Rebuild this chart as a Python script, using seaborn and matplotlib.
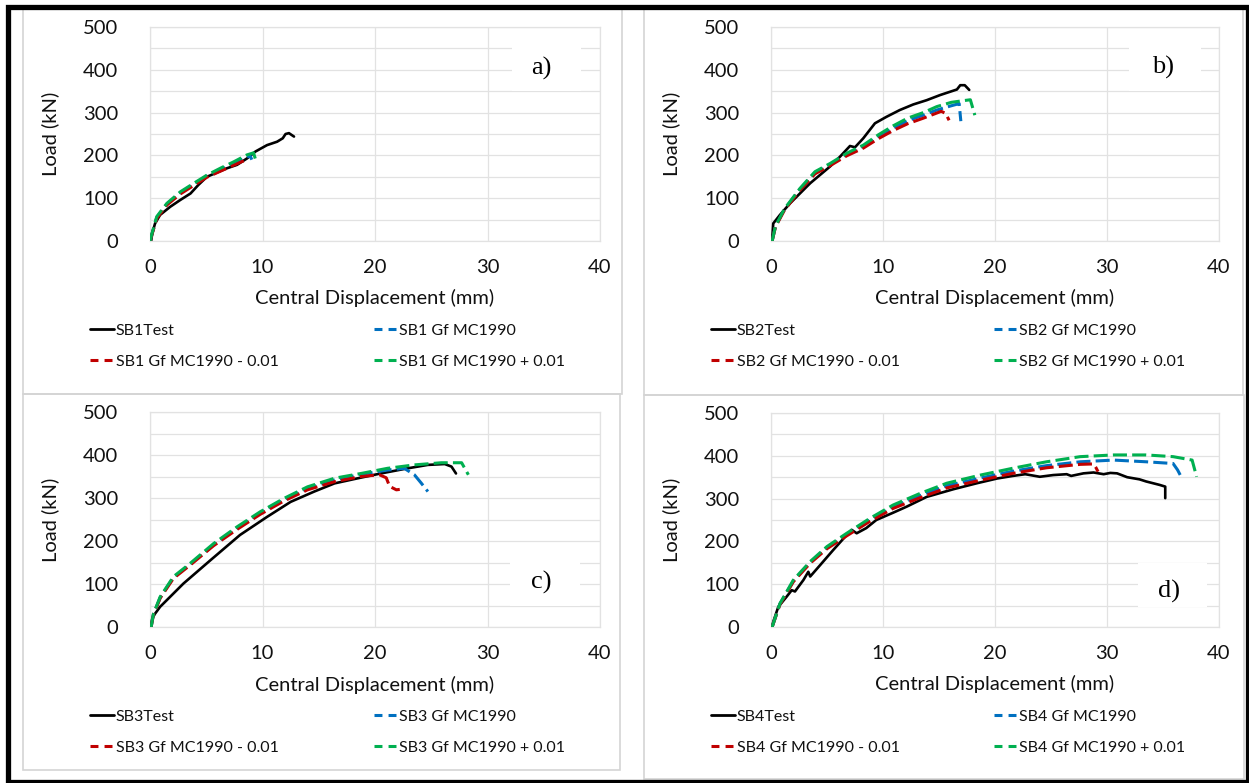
import numpy as np
import pandas as pd
import matplotlib
matplotlib.use("Agg")
import matplotlib.pyplot as plt
from matplotlib.lines import Line2D
from matplotlib.patches import Rectangle
import seaborn as sns

# ---------------- data: load (kN) vs central displacement (mm) ----------------
# SB1
sb1_test_x = [0.1, 0.2, 0.45, 0.9, 1.8, 2.7, 3.6, 4.3, 5.06, 5.95, 6.85, 7.74, 8.63, 9.37, 10.4, 11.3, 11.8, 12.05, 12.35, 12.8]
sb1_test_y = [0, 18, 41, 61, 80, 96, 111, 131, 150, 160, 170, 178, 193, 209, 224, 232, 240, 250, 252, 244]
sb1_mc_x = [0, 0.15, 0.6, 1.5, 2.7, 3.9, 5.06, 6.25, 7.44, 8.6, 8.9, 9.05]
sb1_mc_y = [0, 14, 55, 86, 113, 133, 152, 167, 182, 196, 199, 190]
sb1_lo_x = [0, 0.15, 0.6, 1.5, 2.7, 3.9, 5.06, 6.25, 7.44, 8.2, 8.45, 8.6]
sb1_lo_y = [0, 13, 53, 84, 110, 130, 149, 163, 177, 186, 188, 181]
sb1_hi_x = [0, 0.15, 0.6, 1.5, 2.7, 3.9, 5.06, 6.25, 7.44, 8.6, 9.2, 9.4]
sb1_hi_y = [0, 15, 57, 88, 115, 135, 154, 170, 185, 201, 206, 189]

# SB2
sb2_test_x = [0.1, 0.2, 0.8, 1.7, 3.5, 5.27, 6.16, 7.05, 7.5, 8.24, 9.28, 10.3, 11.5, 12.7, 13.9, 15.1, 16.6, 16.9, 17.3, 17.7]
sb2_test_y = [0, 41, 61, 88, 135, 174, 197, 222, 219, 240, 275, 290, 306, 319, 329, 341, 354, 364, 364, 353]
sb2_mc_x = [0.1, 0.4, 1.2, 2.59, 3.93, 5.27, 6.76, 8.24, 9.58, 10.9, 12.2, 13.6, 14.8, 16.1, 16.8, 16.95]
sb2_mc_y = [0, 34, 74, 121, 160, 179, 202, 221, 244, 264, 281, 294, 306, 316, 321, 280]
sb2_lo_x = [0.1, 0.4, 1.2, 2.59, 3.93, 5.27, 6.76, 8.24, 9.58, 10.9, 12.2, 13.6, 14.6, 15.2, 15.6, 15.9]
sb2_lo_y = [0, 33, 72, 119, 157, 176, 199, 217, 239, 258, 274, 287, 297, 303, 298, 282]
sb2_hi_x = [0.1, 0.4, 1.2, 2.59, 3.93, 5.27, 6.76, 8.24, 9.58, 10.9, 12.2, 13.6, 14.8, 16.1, 17.2, 17.8, 18.2]
sb2_hi_y = [0, 35, 75, 123, 162, 181, 205, 224, 248, 269, 287, 300, 314, 324, 328, 330, 294]

# SB3
sb3_test_x = [0.1, 0.2, 0.45, 0.9, 2.97, 5.36, 8.0, 10.4, 12.5, 14.6, 16.4, 18.5, 20.5, 22.9, 24.7, 26.2, 26.8, 27.2]
sb3_test_y = [0, 20, 31, 47, 101, 155, 214, 256, 291, 315, 334, 346, 357, 369, 377, 379, 373, 357]
sb3_mc_x = [0.1, 0.3, 0.9, 2.08, 3.57, 5.65, 7.74, 9.8, 11.9, 14.0, 16.4, 18.75, 21.1, 22.6, 23.5, 24.1, 24.7]
sb3_mc_y = [0, 29, 68, 115, 146, 191, 230, 265, 296, 322, 342, 355, 365, 369, 354, 335, 315]
sb3_lo_x = [0.1, 0.3, 0.9, 2.08, 3.57, 5.65, 7.74, 9.8, 11.9, 14.0, 16.4, 18.75, 20.4, 21.0, 21.3, 21.9, 22.2]
sb3_lo_y = [0, 28, 67, 113, 144, 189, 227, 262, 293, 319, 338, 350, 354, 347, 327, 319, 320]
sb3_hi_x = [0.1, 0.3, 0.9, 2.08, 3.57, 5.65, 7.74, 9.8, 11.9, 14.0, 16.4, 18.75, 21.1, 23.5, 25.9, 27.7, 28.3]
sb3_hi_y = [0, 30, 70, 117, 148, 194, 233, 268, 299, 326, 346, 357, 369, 377, 382, 382, 354]

# SB4
sb4_test_x = [0.1, 0.2, 0.65, 1.4, 1.85, 2.14, 2.9, 3.33, 3.5, 4.4, 5.56, 6.76, 7.2, 7.65, 8.5, 9.4, 10.9, 12.1, 13.9,
              16.3, 18.4, 20.2, 21.6, 22.7, 24.0, 25.2, 26.4, 26.8, 27.9, 28.8, 29.7, 30.3, 30.9, 31.8, 32.9, 33.5,
              34.1, 34.7, 35.2, 35.2]
sb4_test_y = [0, 12, 47, 71, 86, 83, 110, 129, 118, 145, 180, 215, 227, 219, 231, 250, 267, 281, 304,
              322, 336, 347, 353, 357, 351, 355, 357, 353, 359, 361, 357, 360, 359, 350, 345, 340,
              336, 332, 328, 301]
sb4_mc_x = [0.1, 0.8, 2.0, 3.5, 5.0, 6.76, 8.84, 10.9, 13.3, 15.7, 18.7, 21.6, 24.6, 27.6, 30.6, 33.5, 35.9, 36.3, 36.7]
sb4_mc_y = [0, 54, 108, 151, 186, 216, 251, 281, 307, 330, 348, 364, 377, 386, 390, 386, 382, 367, 347]
sb4_lo_x = [0.1, 0.8, 2.0, 3.5, 5.0, 6.76, 8.84, 10.9, 13.3, 15.7, 18.7, 21.6, 24.6, 27.6, 28.8, 29.0, 29.2]
sb4_lo_y = [0, 53, 106, 149, 183, 213, 247, 277, 302, 325, 343, 359, 372, 380, 381, 373, 363]
sb4_hi_x = [0.1, 0.8, 2.0, 3.5, 5.0, 6.76, 8.84, 10.9, 13.3, 15.7, 18.7, 21.6, 24.6, 27.6, 30.6, 33.5, 35.9, 37.6, 38.0]
sb4_hi_y = [0, 55, 110, 153, 188, 219, 254, 285, 312, 336, 355, 371, 386, 398, 402, 402, 398, 390, 351]

panel_tags = ["a)", "b)", "c)", "d)"]
beams = ["SB1", "SB2", "SB3", "SB4"]
x_ticks = [0, 10, 20, 30, 40]
y_ticks = [0, 100, 200, 300, 400, 500]

series = {
    "SB1": [(sb1_test_x, sb1_test_y), (sb1_mc_x, sb1_mc_y), (sb1_lo_x, sb1_lo_y), (sb1_hi_x, sb1_hi_y)],
    "SB2": [(sb2_test_x, sb2_test_y), (sb2_mc_x, sb2_mc_y), (sb2_lo_x, sb2_lo_y), (sb2_hi_x, sb2_hi_y)],
    "SB3": [(sb3_test_x, sb3_test_y), (sb3_mc_x, sb3_mc_y), (sb3_lo_x, sb3_lo_y), (sb3_hi_x, sb3_hi_y)],
    "SB4": [(sb4_test_x, sb4_test_y), (sb4_mc_x, sb4_mc_y), (sb4_lo_x, sb4_lo_y), (sb4_hi_x, sb4_hi_y)],
}

# ---------------- styling ----------------
sns.set_theme(style="white")
plt.rcParams["font.family"] = ["Lato", "DejaVu Sans"]

C_TEST = "black"
C_MC = "#0070C0"
C_LO = "#C00000"
C_HI = "#00B050"
GRID = "#E2E2E2"
TXT = "#111111"
DASH = (0, (4.6, 1.7))

W, H = 1249, 783
fig = plt.figure(figsize=(W / 100, H / 100), dpi=100)
fig.patch.set_facecolor("white")


def fx(px):
    return px / W


def fy(py):
    return 1 - py / H


# axes placement (pixel boxes: left, top, right, bottom)
boxes = [(150, 27, 600, 241), (771, 27, 1219, 241), (150, 412, 600, 627), (771, 413, 1219, 627)]
# white tag boxes (axes fractions: x0, y0, w, h) and tag centres
tag_boxes = [(0.805, 0.70, 0.152, 0.205), (0.80, 0.70, 0.16, 0.205), (0.80, 0.10, 0.155, 0.21), (0.82, 0.093, 0.153, 0.206)]
tag_pos = [(0.869, 0.808), (0.876, 0.813), (0.869, 0.205), (0.889, 0.168)]

for i, beam in enumerate(beams):
    l, t, r, b = boxes[i]
    ax = fig.add_axes([fx(l), fy(b), fx(r) - fx(l), fy(t) - fy(b)])
    (tx, ty), (mx, my), (lx, ly), (hx, hy) = series[beam]

    sns.lineplot(x=tx, y=ty, ax=ax, color=C_TEST, lw=1.9, sort=False, estimator=None, zorder=3)
    sns.lineplot(x=mx, y=my, ax=ax, color=C_MC, lw=2.2, linestyle=DASH, sort=False, estimator=None, zorder=4)
    sns.lineplot(x=lx, y=ly, ax=ax, color=C_LO, lw=2.2, linestyle=DASH, sort=False, estimator=None, zorder=4)
    sns.lineplot(x=hx, y=hy, ax=ax, color=C_HI, lw=2.2, linestyle=DASH, sort=False, estimator=None, zorder=5)

    ax.set_xlim(0, 40)
    ax.set_ylim(0, 500)
    ax.set_xticks(x_ticks)
    ax.set_yticks(y_ticks)
    ax.set_yticks(np.arange(0, 501, 50), minor=True)
    ax.grid(True, which="both", axis="y", color=GRID, lw=0.9, zorder=0)
    ax.grid(True, which="major", axis="x", color=GRID, lw=0.9, zorder=0)
    ax.set_axisbelow(True)
    for s in ax.spines.values():
        s.set_color(GRID)
        s.set_linewidth(0.9)
    ax.tick_params(axis="both", which="both", length=0, labelsize=14.5, colors=TXT)
    ax.tick_params(axis="y", pad=23)
    ax.tick_params(axis="x", pad=13)

    ax.set_xlabel("Central Displacement (mm)", fontsize=14.5, color=TXT)
    ax.set_ylabel("Load (kN)", fontsize=14.5, color=TXT)
    ax.xaxis.label.set_va("center")
    ax.yaxis.label.set_va("center")
    ax.xaxis.set_label_coords(0.5, -0.268)
    ax.yaxis.set_label_coords(-0.222, 0.5)

    # panel tag on a white patch
    bx0, by0, bw, bh = tag_boxes[i]
    ax.add_patch(Rectangle((bx0, by0), bw, bh, transform=ax.transAxes, facecolor="white",
                           edgecolor="none", zorder=1))
    ax.text(*tag_pos[i], panel_tags[i], transform=ax.transAxes, ha="center", va="center",
            fontsize=19, family=["Liberation Serif", "DejaVu Serif"], color="black", zorder=2)

    # two legend columns
    h_test = Line2D([], [], color=C_TEST, lw=2.0)
    h_lo = Line2D([], [], color=C_LO, lw=2.2, dashes=(2.6, 2.0))
    h_mc = Line2D([], [], color=C_MC, lw=2.2, dashes=(2.6, 2.0))
    h_hi = Line2D([], [], color=C_HI, lw=2.2, dashes=(2.6, 2.0))
    common = dict(loc="upper left", frameon=False, fontsize=11.5, handlelength=1.5,
                  handletextpad=0.1, labelspacing=1.05, borderpad=0, borderaxespad=0,
                  labelcolor=TXT)
    leg1 = ax.legend([h_test, h_lo], [f"{beam}Test", f"{beam} Gf MC1990 - 0.01"],
                     bbox_to_anchor=(-0.133, -0.385), **common)
    ax.add_artist(leg1)
    ax.legend([h_mc, h_hi], [f"{beam} Gf MC1990", f"{beam} Gf MC1990 + 0.01"],
              bbox_to_anchor=(0.497, -0.385), **common)

# panel frames
frame_boxes = [(23, 9, 622, 394), (644, 9, 1243, 395), (23, 394, 620, 770), (644, 395, 1244, 779)]
for (l, t, r, b) in frame_boxes:
    fig.add_artist(Rectangle((fx(l), fy(b)), fx(r) - fx(l), fy(t) - fy(b), transform=fig.transFigure,
                             facecolor="none", edgecolor="#D4D4D4", lw=1.2))

# outer black border
fig.add_artist(Rectangle((fx(8), fy(781.5)), fx(1247.5) - fx(8), fy(6.5) - fy(781.5),
                         transform=fig.transFigure, facecolor="none", edgecolor="black", lw=3.8))

fig.savefig("out.png", dpi=100)
